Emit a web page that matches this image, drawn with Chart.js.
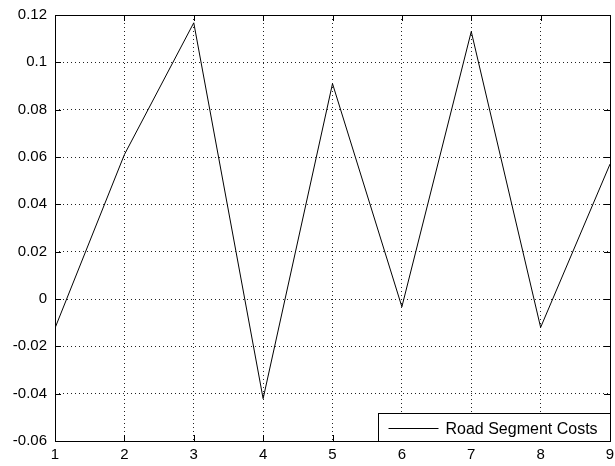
<!DOCTYPE html>
<html>
<head>
    <meta charset="UTF-8">
    <title>Road Segment Costs</title>
    <script src="https://cdn.jsdelivr.net/npm/chart.js"></script>
    <style>
        body { margin: 0; background: #fff; }
        canvas { display: block; }
    </style>
</head>
<body>
    <canvas id="costChart" width="615" height="466"></canvas>
    <script>
        // data
        const segments = [1, 2, 3, 4, 5, 6, 7, 8, 9];
        const costs = [-0.0123, 0.061, 0.1167, -0.0421, 0.091, -0.0033, 0.113, -0.012, 0.057];
        const xTicks = [1, 2, 3, 4, 5, 6, 7, 8, 9];
        const yTicks = [-0.06, -0.04, -0.02, 0, 0.02, 0.04, 0.06, 0.08, 0.1, 0.12];
        const seriesName = 'Road Segment Costs';

        const FONT = { family: 'Liberation Sans, Arial, sans-serif', size: 15 };

        // matlab style box, inward ticks and legend in the lower right corner
        const matlabBox = {
            id: 'matlabBox',
            afterDraw(chart) {
                const { ctx, chartArea: a, scales } = chart;
                const len = 6;
                ctx.save();
                ctx.strokeStyle = '#000';
                ctx.lineWidth = 1;
                ctx.beginPath();
                xTicks.forEach(v => {
                    const px = Math.round(scales.x.getPixelForValue(v)) + 0.5;
                    ctx.moveTo(px, a.bottom); ctx.lineTo(px, a.bottom - len);
                    ctx.moveTo(px, a.top); ctx.lineTo(px, a.top + len);
                });
                yTicks.forEach(v => {
                    const py = Math.round(scales.y.getPixelForValue(v)) + 0.5;
                    ctx.moveTo(a.left, py); ctx.lineTo(a.left + len, py);
                    ctx.moveTo(a.right, py); ctx.lineTo(a.right - len, py);
                });
                ctx.stroke();
                ctx.strokeRect(Math.round(a.left) + 0.5, Math.round(a.top) + 0.5,
                    Math.round(a.right - a.left), Math.round(a.bottom - a.top));

                // legend
                const lw = 232, lh = 28;
                const lx = Math.round(a.right) - lw + 0.5, ly = Math.round(a.bottom) - lh + 0.5;
                ctx.fillStyle = '#fff';
                ctx.fillRect(lx, ly, lw, lh);
                ctx.strokeRect(lx, ly, lw, lh);
                const my = Math.round(ly + lh / 2) + 0.5;
                ctx.beginPath();
                ctx.moveTo(lx + 10, my); ctx.lineTo(lx + 60, my);
                ctx.stroke();
                ctx.fillStyle = '#000';
                ctx.font = '16px ' + FONT.family;
                ctx.textBaseline = 'middle';
                ctx.fillText(chart.data.datasets[0].label, lx + 67, my + 1);
                ctx.restore();
            }
        };

        new Chart(document.getElementById('costChart'), {
            type: 'line',
            data: {
                datasets: [{
                    label: seriesName,
                    data: segments.map((s, i) => ({ x: s, y: costs[i] })),
                    borderColor: '#000',
                    borderWidth: 1,
                    pointRadius: 0,
                    tension: 0,
                    fill: false
                }]
            },
            options: {
                responsive: false,
                animation: false,
                layout: { padding: { top: 15, right: 5, left: 0, bottom: 0 } },
                plugins: { legend: { display: false }, tooltip: { enabled: false } },
                scales: {
                    x: {
                        type: 'linear',
                        min: 1,
                        max: 9,
                        afterBuildTicks: s => { s.ticks = xTicks.map(v => ({ value: v })); },
                        afterFit: s => { s.height = 25; s.paddingLeft = 0; s.paddingRight = 0; },
                        grid: { color: '#222', lineWidth: 1, drawTicks: false },
                        border: { display: false, dash: [1, 3] },
                        ticks: { color: '#000', font: FONT, padding: 5, maxRotation: 0 }
                    },
                    y: {
                        min: -0.06,
                        max: 0.12,
                        afterBuildTicks: s => { s.ticks = yTicks.map(v => ({ value: v })); },
                        afterFit: s => { s.width = 55; s.paddingTop = 0; s.paddingBottom = 0; },
                        grid: { color: '#222', lineWidth: 1, drawTicks: false },
                        border: { display: false, dash: [1, 3] },
                        ticks: {
                            color: '#000', font: FONT, padding: 8,
                            callback: v => String(Math.round(v * 100) / 100)
                        }
                    }
                }
            },
            plugins: [matlabBox]
        });
    </script>
</body>
</html>
